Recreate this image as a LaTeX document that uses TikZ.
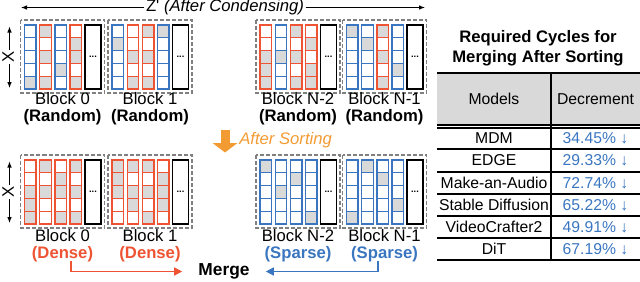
\documentclass[tikz,border=0pt]{standalone}
\usepackage{fontspec}
\setmainfont{Liberation Sans}
\usetikzlibrary{arrows.meta,calc,positioning}
\definecolor{SBblue}{HTML}{3A76C0}
\definecolor{SBred}{HTML}{EE5434}
\definecolor{SBorange}{HTML}{F39B33}
\definecolor{SBgray}{HTML}{D9D9D9}
\definecolor{SBdash}{HTML}{808080}

% #1 name, #2 x, #3 y, #4 columns as index/colour/{gray rows}
\newcommand{\cellblock}[4]{%
  \draw[blockbox] (#2,#3) rectangle ++(84,73);
  \foreach \cc/\col/\g in {#4}{%
    \foreach \rr in \g
      \fill[SBgray] ({#2+4+\cc*15.2},{#3+5+(\rr-1)*12.8}) rectangle ++(11.5,12.8);
    \foreach \rr in {1,...,5}
      \draw[cellline,\col] ({#2+4+\cc*15.2},{#3+5+(\rr-1)*12.8}) rectangle ++(11.5,12.8);
  }
  \draw[line width=1.1pt] ({#2+64.5},{#3+5}) rectangle ++(16,64);
  \node[font=\bfseries\fontsize{7}{7}\selectfont,inner sep=0pt] (#1dots) at ({#2+72.5},{#3+37}) {...};
}

\begin{document}
\begin{tikzpicture}[x=0.75pt,y=-0.75pt,>={Latex[length=4.5pt,width=3.5pt]},
  blockbox/.style={draw=SBdash,line width=0.9pt,dash pattern=on 3pt off 1.5pt},
  cellline/.style={line width=1pt},
  blocklab/.style={font=\fontsize{12.5}{14}\selectfont,inner sep=0pt,text height=8.8pt,text depth=2.4pt},
  kindlab/.style={font=\fontsize{12.5}{14}\selectfont\bfseries,inner sep=0pt,text height=8.8pt,text depth=2.4pt},
  tabtext/.style={font=\fontsize{11.8}{13}\selectfont,inner sep=1pt},
  mergearrow/.style={line width=1.1pt,-{Triangle[length=6pt,width=6pt]}}]
  \useasboundingbox (0,0) rectangle (640,282);

  % Z' axis
  \node[blocklab,inner sep=1pt] (zt) at (225,7.5) {Z\textquotesingle\ \textit{(After Condensing)}};
  \coordinate (zleft) at (21,7.5);
  \coordinate (zright) at (425,7.5);
  \draw[->,line width=0.8pt] (zt.west) -- (zleft);
  \draw[->,line width=0.8pt] (zt.east) -- (zright);

  % X axes
  \foreach \nm/\y in {xa/57, xb/192} {
    \node[blocklab,inner sep=1pt,rotate=90] (\nm) at (9.5,\y) {X};
    \coordinate (\nm top) at (9.5,\y-30.5);
    \coordinate (\nm bot) at (9.5,\y+31);
    \draw[->,line width=0.8pt] (\nm.east) -- (\nm top);
    \draw[->,line width=0.8pt] (\nm.west) -- (\nm bot);
  }

  % before sorting
  \cellblock{ta}{20.5}{20}{0/SBblue/{5}, 1/SBred/{1,3,5}, 2/SBblue/{4}, 3/SBred/{2,3,5}}
  \cellblock{tb}{108}{20}{0/SBblue/{2}, 1/SBred/{3,5}, 2/SBred/{1,3,5}, 3/SBblue/{1}}
  \cellblock{tc}{256}{20}{0/SBred/{3,4,5}, 1/SBblue/{3}, 2/SBred/{1,3,5}, 3/SBred/{2,4,5}}
  \cellblock{td}{342.5}{20}{0/SBblue/{1}, 1/SBblue/{2}, 2/SBred/{1,3,5}, 3/SBblue/{4}}
  \foreach \nm/\x/\t in {ta/62.5/0, tb/150/1, tc/298/N-2, td/384.5/N-1} {
    \node[blocklab] (\nm lab) at (\x,100.5) {Block \t};
    \node[kindlab] (\nm kind) at (\x,116.8) {(Random)};
  }

  % sorting step
  \coordinate (sorttop) at (225,130);
  \coordinate (sortbot) at (225,152.5);
  \draw[SBorange,line width=6.75pt,-{Triangle[length=7pt,width=18pt]}] (sorttop) -- (sortbot);
  \node[blocklab,SBorange,anchor=west,font=\fontsize{12.5}{14}\selectfont\itshape] (sortlab) at (239,140.5) {After Sorting};

  % after sorting
  \cellblock{ba}{20.5}{155}{0/SBred/{3,4,5}, 1/SBred/{1,3}, 2/SBred/{2,3,5}, 3/SBred/{1,3,5}}
  \cellblock{bb}{108}{155}{0/SBred/{1,2,3}, 1/SBred/{1,3,4}, 2/SBred/{1,3,5}, 3/SBred/{2,3,4}}
  \cellblock{bc}{256}{155}{0/SBblue/{1}, 1/SBblue/{3}, 2/SBblue/{2}, 3/SBblue/{5}}
  \cellblock{bd}{342.5}{155}{0/SBblue/{5}, 1/SBblue/{1}, 2/SBblue/{2}, 3/SBblue/{4}}
  \foreach \nm/\x/\t/\k/\col in {ba/62.5/0/Dense/SBred, bb/150/1/Dense/SBred, bc/298/N-2/Sparse/SBblue, bd/384.5/N-1/Sparse/SBblue} {
    \node[blocklab] (\nm lab) at (\x,237.5) {Block \t};
    \node[kindlab,\col] (\nm kind) at (\x,254) {(\k)};
  }

  \node[kindlab,font=\fontsize{13}{14}\selectfont\bfseries,inner sep=2pt] (merge) at (224,271.5) {Merge};
  \draw[mergearrow,SBred] ($(bakind.south)+(8.5,-1)$) |- ([xshift=-10]merge.west);
  \draw[mergearrow,SBblue] ($(bdkind.south)+(-6.5,-1)$) |- ([xshift=10]merge.east);

  % table
  \node[font=\fontsize{12.5}{14}\selectfont\bfseries,align=center] (ttl) at (538,48) {Required Cycles for\\[1pt]Merging After Sorting};
  \fill[SBgray] (437,73) rectangle (640,125);
  \draw[line width=0.9pt] (437,73) -- (640,73);
  \draw[line width=0.8pt] (437,125) -- (640,125) (437,128) -- (640,128);
  \foreach \y in {149,172,194,216,238,260}
    \draw[line width=0.8pt] (437,\y) -- (640,\y);
  \draw[line width=0.9pt] (551,73) -- (551,260);
  \node[tabtext] (hmod) at (494,99) {Models};
  \node[tabtext] (hdec) at (595.5,99) {Decrement};
  \foreach \m/\v/\y [count=\i] in {MDM/34.45/138.5, EDGE/29.33/160.5, Make-an-Audio/72.74/183, Stable Diffusion/65.22/205, VideoCrafter2/49.91/227, DiT/67.19/249} {
    \node[tabtext] (mod\i) at (494,\y) {\m};
    \node[tabtext,SBblue] (dec\i) at (595.5,\y) {\v\%\ ↓};
  }
\end{tikzpicture}
\end{document}
